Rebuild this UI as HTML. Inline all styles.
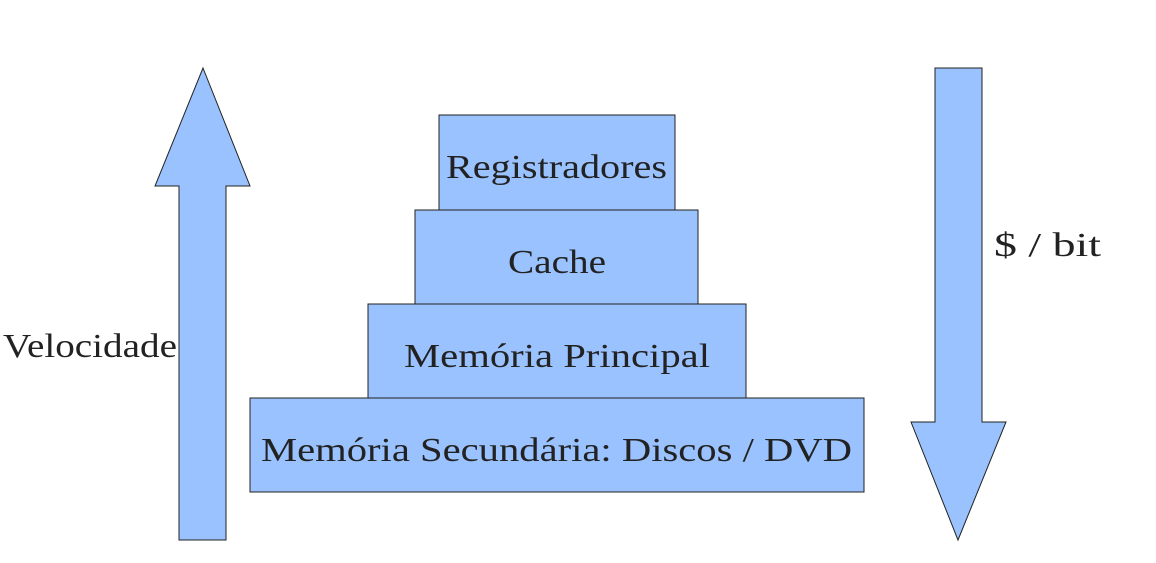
<!DOCTYPE html>
<html><head><meta charset="utf-8"><style>html,body{margin:0;padding:0;background:#fff;}svg{display:block}</style></head>
<body>
<svg width="1156" height="563" viewBox="0 0 1156 563" xmlns="http://www.w3.org/2000/svg">
<g fill="#99c2ff" stroke="#222" stroke-width="1">
<polygon points="203,68 250,186 226,186 226,540 179,540 179,186 155,186"/>
<polygon points="935,68 982,68 982,422 1006,422 958,540 911,422 935,422"/>
<rect x="439" y="115" width="236" height="95"/>
<rect x="415" y="210" width="283" height="94"/>
<rect x="368" y="304" width="378" height="94"/>
<rect x="250" y="398" width="614" height="94"/>
</g>
<g font-family="'Liberation Serif', serif" font-size="34" fill="#222">
<text x="446" y="178" textLength="221" lengthAdjust="spacingAndGlyphs">Registradores</text>
<text x="508" y="273" textLength="98" lengthAdjust="spacingAndGlyphs">Cache</text>
<text x="404" y="367" textLength="306" lengthAdjust="spacingAndGlyphs">Memória Principal</text>
<text x="261" y="461" textLength="591" lengthAdjust="spacingAndGlyphs">Memória Secundária: Discos / DVD</text>
<text x="994" y="256" textLength="107" lengthAdjust="spacingAndGlyphs">$ / bit</text>
<text x="3" y="357" textLength="174" lengthAdjust="spacingAndGlyphs">Velocidade</text>
</g>
</svg>
</body></html>
